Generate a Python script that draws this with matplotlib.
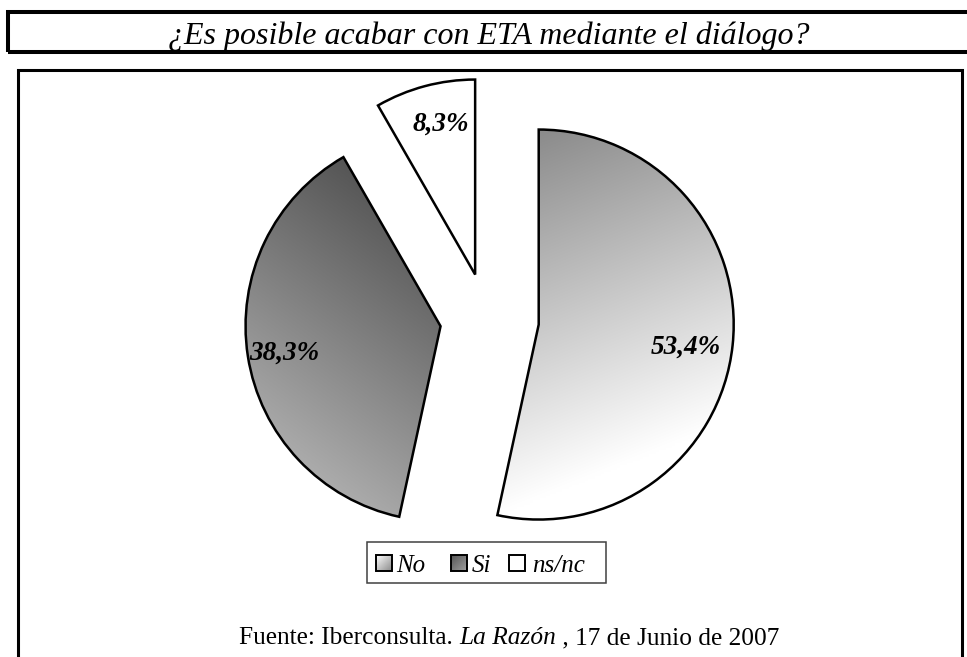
import numpy as np
import matplotlib.pyplot as plt
from matplotlib.patches import Rectangle
from matplotlib.colors import to_rgb

W, H = 967, 657

title = "¿Es posible acabar con ETA mediante el diálogo?"
labels = ["No", "Si", "ns/nc"]
values = [53.4, 38.3, 8.3]
explode = [52, 47, 46]   # pie offsets are in data units (= pixels here)
source = [("Fuente: Iberconsulta. ", "normal"), ("La Razón", "italic"),
          (" , 17 de Junio de 2007", "normal")]

plt.rcParams['font.family'] = ['Liberation Serif', 'DejaVu Serif']


def Y(y):
    # screen pixel row -> data y (y axis points up)
    return H - y


def gradient(ax, clip, p0, p1, c0, c1, extent=(0, W, 0, H), n=300):
    x0, x1, y0, y1 = extent
    X, Yg = np.meshgrid(np.linspace(x0, x1, n), np.linspace(y0, y1, n))
    d = np.array(p1, float) - np.array(p0, float)
    t = ((X - p0[0]) * d[0] + (Yg - p0[1]) * d[1]) / (d @ d)
    t = np.clip(t, 0, 1)[..., None]
    c0, c1 = np.array(to_rgb(c0)), np.array(to_rgb(c1))
    img = c0 + t * (c1 - c0)
    im = ax.imshow(img, extent=extent, origin='lower', interpolation='bilinear', zorder=2)
    im.set_clip_path(clip)
    return im


fig = plt.figure(figsize=(W / 100, H / 100), dpi=100)
ax = fig.add_axes([0, 0, 1, 1])

wedges, _ = ax.pie(values, explode=explode, center=(487, Y(319)), radius=195,
                   startangle=90, counterclock=False,
                   wedgeprops=dict(facecolor='none', edgecolor='black', linewidth=1.8))
for w in wedges:
    w.set_zorder(3)

# fills
gradient(ax, wedges[0], (540, Y(127)), (668, Y(447)), '#8a8a8a', '#ffffff')
gradient(ax, wedges[1], (262, Y(470)), (440, Y(230)), '#b4b4b4', '#555555')
wedges[2].set_facecolor('white')

# percentage labels
lab_pos = [(686, 347), (284, 353), (441, 124)]
for v, (x, y) in zip(values, lab_pos):
    ax.text(x, Y(y), f"{v:.1f}%".replace('.', ','), fontsize=19.5, fontstyle='italic',
            fontweight='bold', ha='center', va='center', zorder=5)

# title box and frame
ax.add_patch(Rectangle((7.5, Y(51.5)), 1000, 40, fill=False, lw=2.9, ec='black', clip_on=False))
ax.add_patch(Rectangle((17.5, Y(720)), 944, 650, fill=False, lw=2.2, ec='black', clip_on=False))
ax.text(489, Y(44), title, fontsize=23, fontstyle='italic', ha='center', va='baseline')

# legend
ax.add_patch(Rectangle((367, Y(582.5)), 238.5, 41, fc='white', ec='#404040', lw=1.1, zorder=4))
icon_x = [376, 451, 509]
text_x = [396, 472, 532]
for i, (lab, ix, tx) in enumerate(zip(labels, icon_x, text_x)):
    sq = Rectangle((ix, Y(571)), 16, 16, fc='none', ec='black', lw=1.4, zorder=6)
    ax.add_patch(sq)
    ext = (ix, ix + 16, Y(571), Y(555))
    if i == 0:
        gradient(ax, sq, (ix, Y(555)), (ix + 16, Y(571)), '#ffffff', '#8a8a8a', ext, 40).set_zorder(5)
    elif i == 1:
        gradient(ax, sq, (ix, Y(555)), (ix + 16, Y(571)), '#555555', '#a0a0a0', ext, 40).set_zorder(5)
    else:
        sq.set_facecolor('white')
    ax.text(tx, Y(572), lab, fontsize=18, fontstyle='italic', va='baseline', zorder=6)

ax.set_xlim(0, W)
ax.set_ylim(0, H)
ax.set_aspect('auto')
ax.axis('off')

# source line with mixed styles
fig.canvas.draw()
r = fig.canvas.get_renderer()
parts = []
for s, st in source:
    parts.append(ax.text(0, Y(644), s, fontsize=18.3, fontstyle=st, va='baseline'))
widths = [p.get_window_extent(r).width for p in parts]
x = 509 - sum(widths) / 2
for p, w in zip(parts, widths):
    p.set_x(x)
    x += w

fig.savefig("out.png", dpi=100)
